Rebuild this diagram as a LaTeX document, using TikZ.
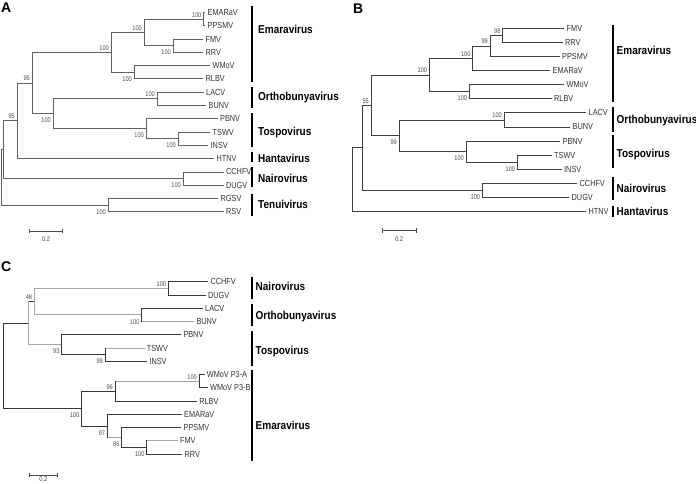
\documentclass[tikz,border=0pt]{standalone}
\usepackage{fontspec}
\setmainfont{Liberation Sans}
\newfontfamily\narrowsans[FakeStretch=0.83]{Liberation Sans}
\newfontfamily\groupsans[FakeStretch=0.87]{Liberation Sans}
\usetikzlibrary{arrows.meta,positioning,calc}

\tikzset{
  branch/.style={line width=0.8pt},
  treeA/.style={branch,black!62},
  treeB/.style={branch,black!75},
  dk/.style={branch,black!78,line cap=rect},
  lt/.style={branch,black!35,line cap=rect},
  taxon/.style={anchor=west,inner xsep=2.5pt,inner ysep=1pt,text=black!80,
    font=\narrowsans\fontsize{8.8}{9}\selectfont},
  bootup/.style={anchor=south east,inner sep=0pt,xshift=-2pt,yshift=1.8pt,
    text=black!70,font=\narrowsans\fontsize{6.8}{7}\selectfont},
  bootdown/.style={anchor=north east,inner sep=0pt,xshift=-2pt,yshift=-4.2pt,
    text=black!70,font=\narrowsans\fontsize{6.8}{7}\selectfont},
  clade/.style={anchor=west,inner sep=0pt,
    font=\groupsans\bfseries\fontsize{11.5}{12}\selectfont},
  cladebar/.style={line width=2pt},
  panel/.style={inner sep=0pt,font=\bfseries\fontsize{14}{14}\selectfont},
  scalebar/.style={line width=0.8pt,black!70,
    arrows={Bar[width=4.5pt]-Bar[width=4.5pt]}},
  scaletext/.style={inner sep=0pt,text=black!75,
    font=\narrowsans\fontsize{6.8}{7}\selectfont}
}

\begin{document}
\begin{tikzpicture}[x=1pt,y=-1pt]
  \useasboundingbox (0,0) rectangle (696,484);

  % ---------------- Panel A ----------------
  \node[panel] (lblA) at (6.3,7.7) {A};

  % Leaves.
  \foreach \n/\x/\y in {
      EMARaV/205/12.5, PPSMV/205/25.8, FMV/203/39.1, RRV/203/52.3,
      WMoV/210/65.6, RLBV/203/78.9, LACV/203.5/92.2, BUNV/206/105.5,
      PBNV/217.5/118.7, TSWV/210/132.0, INSV/208/145.3, HTNV/214/158.6,
      CCHFV/223.5/171.9, DUGV/223.5/185.1, RGSV/218/198.4, RSV/223.5/211.7%
  }{
      \node[taxon] (A-\n) at (\x,\y) {\n};
  }

  % Inner nodes.
  \coordinate (a1) at (203.5,19.15);
  \coordinate (a2) at (173,45.7);
  \coordinate (a3) at (144,32.4);
  \coordinate (a4) at (134,72.25);
  \coordinate (a5) at (111,52.3);
  \coordinate (a6) at (157,98.85);
  \coordinate (a7) at (178,138.65);
  \coordinate (a8) at (146,128.7);
  \coordinate (a9) at (53,113.8);
  \coordinate (a10) at (32,83.05);
  \coordinate (a11) at (17,120.8);
  \coordinate (a12) at (183,178.5);
  \coordinate (a13) at (3.3,149.65);
  \coordinate (a14) at (108,205.05);
  \coordinate (a15) at (1,177.35);

  \foreach \p/\c in {
      a1/A-EMARaV, a1/A-PPSMV, a2/A-FMV, a2/A-RRV, a3/a1, a3/a2,
      a4/A-WMoV, a4/A-RLBV, a5/a3, a5/a4, a6/A-LACV, a6/A-BUNV,
      a7/A-TSWV, a7/A-INSV, a8/A-PBNV, a8/a7, a9/a6, a9/a8,
      a10/a5, a10/a9, a11/a10, a11/A-HTNV, a12/A-CCHFV, a12/A-DUGV,
      a13/a11, a13/a12, a14/A-RGSV, a14/A-RSV, a15/a13, a15/a14%
  }{
      \draw[treeA] (\p) |- (\c);
  }

  % Bootstrap values.
  \foreach \p/\v in {a1/100, a3/100, a5/100, a6/100, a10/95, a11/95}
      \node[bootup] (\p-bs) at (\p) {\v};
  \foreach \p/\v in {a2/100, a4/100, a7/100, a8/100, a9/100, a12/100, a14/100}
      \node[bootdown] (\p-bs) at (\p) {\v};

  % Genera.
  \foreach \g/\t/\b/\l in {
      Emaravirus/6/82/29, Orthobunyavirus/87/108/98,
      Tospovirus/113/147/133, Hantavirus/152/162/158,
      Nairovirus/167/187/178, Tenuivirus/194/216/204%
  }{
      \draw[cladebar] (252,\t) -- (252,\b);
      \node[clade] (A-\g) at (258,\l) {\g};
  }

  \coordinate (sbA-l) at (29,231);
  \coordinate (sbA-r) at (63,231);
  \draw[scalebar] (sbA-l) -- (sbA-r);
  \node[scaletext,below=5.5pt] (sbA-t) at ($(sbA-l)!.5!(sbA-r)$) {0.2};

  % ---------------- Panel B ----------------
  \node[panel] (lblB) at (358.3,8.7) {B};

  \foreach \n/\x/\y in {
      FMV/564/28.3, RRV/562.5/42.4, PPSMV/559.5/56.5, EMARaV/550/70.6,
      WMoV/564/84.7, RLBV/551.5/98.8, LACV/586/112.9, BUNV/570/127.0,
      PBNV/560/141.1, TSWV/551.5/155.2, INSV/561.5/169.3,
      CCHFV/577/183.4, DUGV/569/197.5, HTNV/586/211.6%
  }{
      \node[taxon] (B-\n) at (\x,\y) {\n};
  }

  \coordinate (b1) at (502.7,35.35);
  \coordinate (b2) at (490,45.93);
  \coordinate (b3) at (472.7,58.27);
  \coordinate (b4) at (469.3,91.75);
  \coordinate (b5) at (429.3,75.01);
  \coordinate (b6) at (504,119.95);
  \coordinate (b7) at (517.3,162.25);
  \coordinate (b8) at (466,151.68);
  \coordinate (b9) at (399,135.8);
  \coordinate (b10) at (371,105.4);
  \coordinate (b11) at (482.3,190.45);
  \coordinate (b12) at (362.7,147.9);
  \coordinate (b13) at (352.7,179.75);

  \foreach \p/\c in {
      b1/B-FMV, b1/B-RRV, b2/b1, b2/B-PPSMV, b3/b2, b3/B-EMARaV,
      b4/B-WMoV, b4/B-RLBV, b5/b3, b5/b4, b6/B-LACV, b6/B-BUNV,
      b7/B-TSWV, b7/B-INSV, b8/B-PBNV, b8/b7, b9/b6, b9/b8,
      b10/b5, b10/b9, b11/B-CCHFV, b11/B-DUGV, b12/b10, b12/b11,
      b13/b12, b13/B-HTNV%
  }{
      \draw[treeB] (\p) |- (\c);
  }

  \foreach \p/\v in {b1/98, b2/99, b3/100, b5/100, b6/100, b10/55}
      \node[bootup] (\p-bs) at (\p) {\v};
  \foreach \p/\v in {b4/100, b7/100, b8/100, b9/99, b11/100}
      \node[bootdown] (\p-bs) at (\p) {\v};

  \foreach \g/\t/\b/\l in {
      Emaravirus/25/101.7/50, Orthobunyavirus/107/131.7/120.7,
      Tospovirus/135/168/155, Nairovirus/176.7/200/188.3,
      Hantavirus/205.7/216.7/211.7%
  }{
      \draw[cladebar] (613.3,\t) -- (613.3,\b);
      \node[clade] (B-\g) at (616.5,\l) {\g};
  }

  \coordinate (sbB-l) at (381.7,230.7);
  \coordinate (sbB-r) at (416.7,230.7);
  \draw[scalebar] (sbB-l) -- (sbB-r);
  \node[scaletext,below=5.5pt] (sbB-t) at ($(sbB-l)!.5!(sbB-r)$) {0.2};

  % ---------------- Panel C ----------------
  \node[panel] (lblC) at (6.3,266.2) {C};

  \foreach \n/\t/\x/\y in {
      CCHFV/CCHFV/207.8/281.7, DUGV/DUGV/205.5/295.0,
      LACV/LACV/202.5/308.2, BUNV/BUNV/193.8/321.5,
      PBNV/PBNV/180.8/334.7, TSWV/TSWV/144.2/348.0,
      INSV/INSV/146.8/361.3, P3A/WMoV P3-A/204.2/374.5,
      P3B/WMoV P3-B/207.5/387.8, RLBV/RLBV/196.7/401.0,
      EMARaV/EMARaV/181.5/414.3, PPSMV/PPSMV/181/427.6,
      FMV/FMV/177.5/440.8, RRV/RRV/182/454.1%
  }{
      \node[taxon] (C-\n) at (\x,\y) {\t};
  }

  \coordinate (c1) at (168.3,288.35);
  \coordinate (c2) at (141.7,314.85);
  \coordinate (c3) at (34.3,301.6);
  \coordinate (c4) at (105,354.65);
  \coordinate (c5) at (61.7,344.7);
  \coordinate (c6) at (28,323.15);
  \coordinate (c7) at (199,381.15);
  \coordinate (c8) at (115,391.1);
  \coordinate (c9) at (146.7,447.45);
  \coordinate (c10) at (121.7,437.5);
  \coordinate (c11) at (107.3,425.9);
  \coordinate (c12) at (81.7,408.5);
  \coordinate (c13) at (3.3,365.8);

  % Branches, dark and light.
  \foreach \p/\c in {
      c13/c6, c13/c12, c6/c3, c1/C-CCHFV, c1/C-DUGV, c2/C-LACV,
      c5/C-PBNV, c5/c4, c4/C-INSV, c12/c8, c12/c11, c8/C-RLBV,
      c7/C-P3A, c7/C-P3B, c11/C-EMARaV, c10/C-PPSMV, c10/c9, c9/C-RRV%
  }{
      \draw[dk] (\p |- \c) -- (\c);
  }
  \foreach \p/\c in {
      c6/c5, c3/c1, c3/c2, c2/C-BUNV, c4/C-TSWV, c8/c7, c11/c10, c9/C-FMV%
  }{
      \draw[lt] (\p |- \c) -- (\c);
  }

  % Vertical bars of the inner nodes.
  \foreach \p/\a/\b in {
      c13/c6/c12, c1/C-CCHFV/C-DUGV, c2/C-LACV/C-BUNV, c5/C-PBNV/c4,
      c4/C-TSWV/C-INSV, c12/c8/c11, c8/c7/C-RLBV, c7/C-P3A/C-P3B,
      c11/C-EMARaV/c10, c10/C-PPSMV/c9, c9/C-FMV/C-RRV%
  }{
      \draw[dk] (\p |- \a) -- (\p |- \b);
  }
  \foreach \p/\a/\b in {c6/c3/c5, c3/c1/c2}
      \draw[lt] (\p |- \a) -- (\p |- \b);

  \foreach \p/\v in {c1/100, c3/48, c7/100, c8/96}
      \node[bootup] (\p-bs) at (\p) {\v};
  \foreach \p/\v in {c2/100, c4/99, c5/93, c9/100, c10/86, c11/97, c12/100}
      \node[bootdown] (\p-bs) at (\p) {\v};

  \foreach \g/\t/\b/\l in {
      Nairovirus/276.7/299.3/286.7, Orthobunyavirus/304/325.7/316.7,
      Tospovirus/331/366/351.7, Emaravirus/370/461/425.7%
  }{
      \draw[cladebar] (251.7,\t) -- (251.7,\b);
      \node[clade] (C-\g) at (255.5,\l) {\g};
  }

  \coordinate (sbC-l) at (29.3,475);
  \coordinate (sbC-r) at (57.3,475);
  \draw[scalebar] (sbC-l) -- (sbC-r);
  \node[scaletext,below=2pt] (sbC-t) at ($(sbC-l)!.5!(sbC-r)$) {0.2};
\end{tikzpicture}
\end{document}
